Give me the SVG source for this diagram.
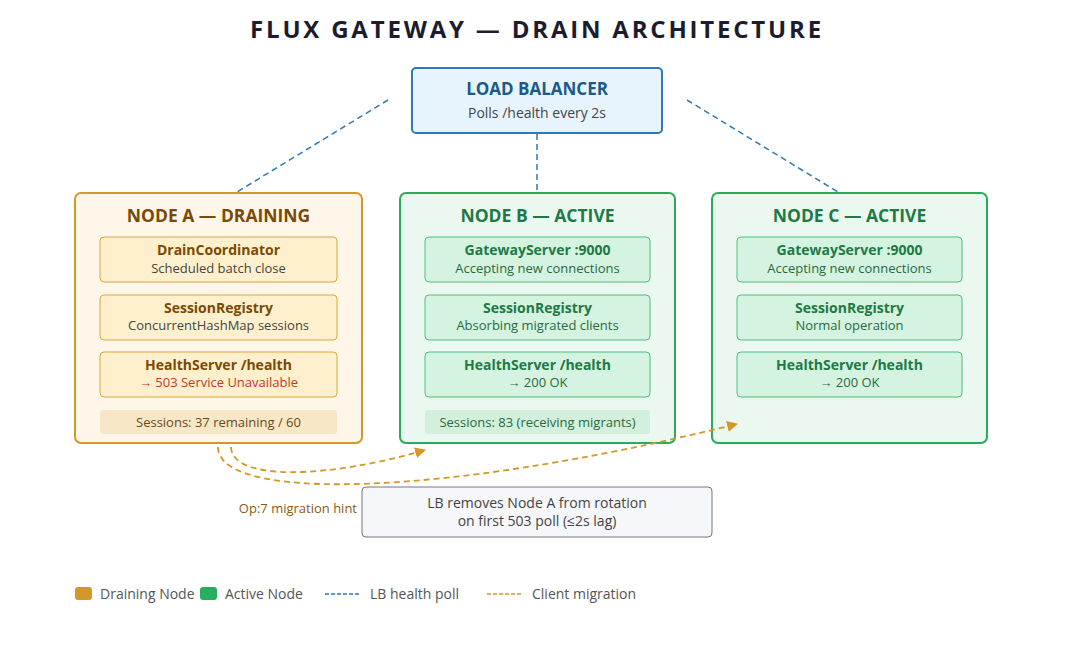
<svg xmlns="http://www.w3.org/2000/svg" width="1075" height="650" viewBox="0 0 1075 650">
<defs>
<marker id="arrO" viewBox="0 0 10 10" refX="9" refY="5" markerWidth="11" markerHeight="11" markerUnits="userSpaceOnUse" orient="auto">
<path d="M0,0 L10,5 L0,10 z" fill="#d4972a"/>
</marker>
<style>
text{font-family:"Open Sans","Noto Sans","Liberation Sans",sans-serif;text-anchor:middle}
.title{font-size:24px;font-weight:700;fill:#1c1c2e;letter-spacing:2.8px}
.ntA{font-size:17.5px;font-weight:700;fill:#7a4a05}
.ntG{font-size:17.5px;font-weight:700;fill:#1e7a45}
.cA{fill:#fef6e8;stroke:#d4972a;stroke-width:2}
.cG{fill:#eaf8ef;stroke:#2aaa5c;stroke-width:2}
.sA{fill:#fef0cc;stroke:#dba63a;stroke-width:1}
.sG{fill:#d4f3e0;stroke:#4cbf7a;stroke-width:1}
.stA{font-size:14px;font-weight:700;fill:#7a4a05}
.stG{font-size:14px;font-weight:700;fill:#1e7a45}
.sub{font-size:13px;fill:#444}
.subG{font-size:13px;fill:#2a6a40}
.red{font-size:13px;fill:#c0392b}
.poll{fill:none;stroke:#2e7ab5;stroke-width:1.5;stroke-dasharray:6,4}
.mig{fill:none;stroke:#d4972a;stroke-width:1.8;stroke-dasharray:6,4}
.leg{font-size:14px;fill:#555;text-anchor:start}
</style>
</defs>
<rect width="1075" height="650" fill="#ffffff"/>
<text class="title" x="537" y="38">FLUX GATEWAY — DRAIN ARCHITECTURE</text>

<g id="lb">
<rect x="412" y="68" width="250" height="65" rx="4" fill="#e8f4fd" stroke="#2e7ab5" stroke-width="2"/>
<text x="537" y="95" style="font-size:17px;font-weight:700;fill:#1a5a8a">LOAD BALANCER</text>
<text x="537" y="118" style="font-size:14px;fill:#444">Polls /health every 2s</text>
</g>

<g id="nodeA">
<rect class="cA" x="75" y="193" width="287" height="250" rx="6"/>
<text class="ntA" x="218.5" y="222">NODE A — DRAINING</text>
<rect class="sA" x="100" y="237" width="237" height="45" rx="4"/>
<text class="stA" x="218.5" y="255">DrainCoordinator</text>
<text class="sub" x="218.5" y="273">Scheduled batch close</text>
<rect class="sA" x="100" y="295" width="237" height="45" rx="4"/>
<text class="stA" x="218.5" y="313">SessionRegistry</text>
<text class="sub" x="218.5" y="330">ConcurrentHashMap sessions</text>
<rect class="sA" x="100" y="352" width="237" height="45" rx="4"/>
<text class="stA" x="218.5" y="370">HealthServer /health</text>
<text class="red" x="218.5" y="387">→ 503 Service Unavailable</text>
<rect x="100" y="410" width="237" height="24" rx="3" fill="#f8e7c6"/>
<text class="sub" x="218.5" y="427" style="fill:#6a4a1a">Sessions: 37 remaining / 60</text>
</g>

<g id="nodeB">
<rect class="cG" x="400" y="193" width="275" height="250" rx="6"/>
<text class="ntG" x="537.5" y="222">NODE B — ACTIVE</text>
<rect class="sG" x="425" y="237" width="225" height="45" rx="4"/>
<text class="stG" x="537.5" y="255">GatewayServer :9000</text>
<text class="subG" x="537.5" y="273">Accepting new connections</text>
<rect class="sG" x="425" y="295" width="225" height="45" rx="4"/>
<text class="stG" x="537.5" y="313">SessionRegistry</text>
<text class="subG" x="537.5" y="330">Absorbing migrated clients</text>
<rect class="sG" x="425" y="352" width="225" height="45" rx="4"/>
<text class="stG" x="537.5" y="370">HealthServer /health</text>
<text class="subG" x="537.5" y="387">→ 200 OK</text>
<rect x="425" y="410" width="225" height="24" rx="3" fill="#d2f0dc"/>
<text class="subG" x="537.5" y="427">Sessions: 83 (receiving migrants)</text>
</g>

<g id="nodeC">
<rect class="cG" x="712" y="193" width="275" height="250" rx="6"/>
<text class="ntG" x="849.5" y="222">NODE C — ACTIVE</text>
<rect class="sG" x="737" y="237" width="225" height="45" rx="4"/>
<text class="stG" x="849.5" y="255">GatewayServer :9000</text>
<text class="subG" x="849.5" y="273">Accepting new connections</text>
<rect class="sG" x="737" y="295" width="225" height="45" rx="4"/>
<text class="stG" x="849.5" y="313">SessionRegistry</text>
<text class="subG" x="849.5" y="330">Normal operation</text>
<rect class="sG" x="737" y="352" width="225" height="45" rx="4"/>
<text class="stG" x="849.5" y="370">HealthServer /health</text>
<text class="subG" x="849.5" y="387">→ 200 OK</text>
</g>

<g id="connectors">
<line class="poll" x1="388" y1="100" x2="237" y2="192"/>
<line class="poll" x1="537" y1="134" x2="537" y2="191"/>
<line class="poll" x1="687" y1="100" x2="838" y2="192"/>
<path class="mig" d="M231,447 C232,482 330,478 425,450" marker-end="url(#arrO)"/>
<path class="mig" d="M218,447 C218,500 430,500 737,424" marker-end="url(#arrO)"/>
</g>

<text x="357" y="513" style="font-size:13px;fill:#8a5a10;text-anchor:end">Op:7 migration hint</text>

<g id="note">
<rect x="362" y="487" width="350" height="50" rx="4" fill="#f5f7fa" stroke="#777" stroke-width="1"/>
<text x="537" y="508" style="font-size:14px;fill:#444">LB removes Node A from rotation</text>
<text x="537" y="526" style="font-size:14px;fill:#444">on first 503 poll (≤2s lag)</text>
</g>

<g id="legend">
<rect x="75" y="587" width="17" height="13" rx="3" fill="#d4972a"/>
<text class="leg" x="100" y="599">Draining Node</text>
<rect x="200" y="587" width="17" height="13" rx="3" fill="#27ae60"/>
<text class="leg" x="225" y="599">Active Node</text>
<line x1="325" y1="594" x2="360" y2="594" stroke="#2e7ab5" stroke-width="1.5" stroke-dasharray="4,2"/>
<text class="leg" x="370" y="599">LB health poll</text>
<line x1="487" y1="594" x2="522" y2="594" stroke="#d4972a" stroke-width="1.5" stroke-dasharray="4,2"/>
<text class="leg" x="532" y="599">Client migration</text>
</g>
</svg>
